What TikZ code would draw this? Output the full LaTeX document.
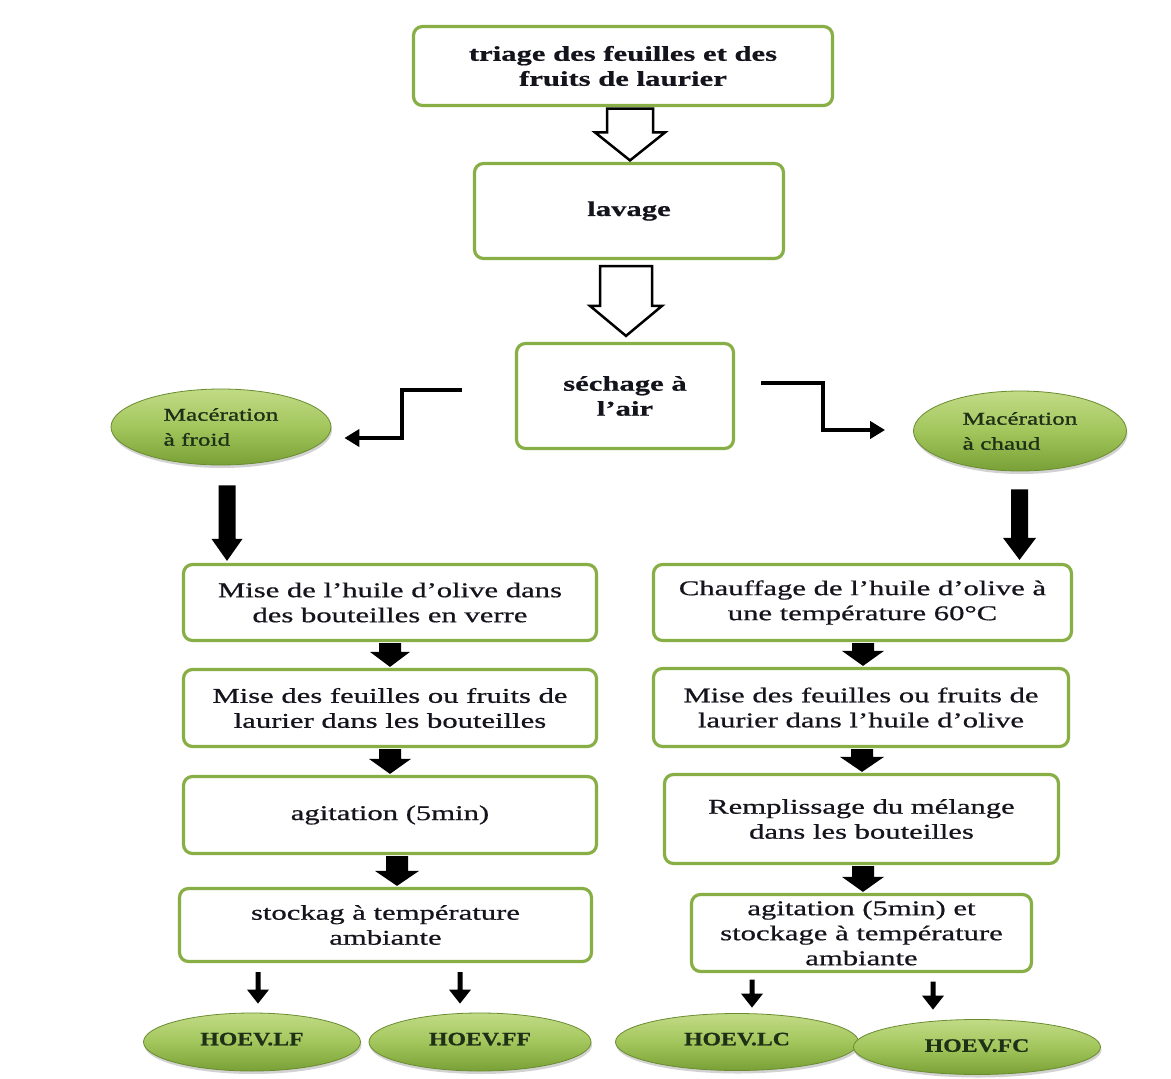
\documentclass[tikz,border=0pt]{standalone}
\usepackage{fontspec}
\setmainfont{Liberation Serif}[FakeStretch=1.46,FakeBold=0.7]
\newfontfamily\macfont{Liberation Serif}[FakeStretch=1.4,FakeBold=1.2]
\newfontfamily\hoevfont{Liberation Serif}[FakeStretch=1.25,FakeBold=0.8]
\usetikzlibrary{shapes.geometric,arrows.meta,calc,shadows}
\definecolor{boxgreen}{HTML}{88AE46}
\definecolor{elltop}{HTML}{C2DB86}
\definecolor{ellmid}{HTML}{A2C65C}
\definecolor{ellbot}{HTML}{79A036}
\definecolor{ellrim}{HTML}{6A8C30}
\definecolor{txt}{HTML}{14141C}
\definecolor{mactxt}{HTML}{1E3016}
% #1 style, #2 start, #3 tip, #4 shaft half width, #5 head half width, #6 head length
\newcommand\arrowpoly[6]{%
  \path[#1] ($(#2)+(-#4,0)$) -- ($(#3)+(-#4,-#6)$) -- ($(#3)+(-#5,-#6)$) -- (#3)
    -- ($(#3)+(#5,-#6)$) -- ($(#3)+(#4,-#6)$) -- ($(#2)+(#4,0)$) -- cycle;}
\begin{document}
\begin{tikzpicture}[x=1pt,y=-1pt,
  stepbox/.style={draw=boxgreen,line width=3.2pt,rounded corners=9pt,fill=white,text=txt,
    align=center,inner sep=0pt},
  boxfont/.style={font=\fontsize{21}{25}\selectfont},
  boldfont/.style={font=\fontsize{21}{25}\selectfont\bfseries},
  ell/.style={ellipse,draw=ellrim,line width=0.8pt,top color=elltop,bottom color=ellbot,
    middle color=ellmid,inner sep=0pt,text=mactxt,
    drop shadow={shadow xshift=1pt,shadow yshift=-3pt,opacity=0.35}},
  macfontstyle/.style={font=\macfont\fontsize{18}{25}\selectfont},
  hoevstyle/.style={font=\hoevfont\bfseries\fontsize{19}{22}\selectfont},
  hol/.style={draw=black,line width=2.5pt,fill=white,line join=miter},
  blk/.style={fill=black},
  elbowarrow/.style={line width=4pt,-{Triangle[length=15pt,width=17pt]}}]
\fill[white] (0,0) rectangle (1171,1079);
\useasboundingbox (0,0) rectangle (1171,1079);

% main column
\node[stepbox,boldfont,minimum width=419pt,minimum height=79pt] (b1) at (623,66)
  {triage des feuilles et des\\fruits de laurier};
\node[stepbox,boldfont,minimum width=309pt,minimum height=95pt] (b2) at (629,211) {lavage};
\node[stepbox,boldfont,minimum width=217pt,minimum height=105pt] (b3) at (625,396)
  {séchage à\\l'air};

% maceration ellipses
\node[ell,macfontstyle,align=left,minimum width=220pt,minimum height=76pt] (macf) at (221,427)
  {Macération\\à froid};
\node[ell,macfontstyle,align=left,minimum width=213pt,minimum height=80pt] (macc) at (1020,431)
  {Macération\\à chaud};

% left column
\node[stepbox,boxfont,minimum width=413pt,minimum height=76pt] (L1) at (390,602.5)
  {Mise de l'huile d'olive dans\\des bouteilles en verre};
\node[stepbox,boxfont,minimum width=413pt,minimum height=77pt] (L2) at (390,708)
  {Mise des feuilles ou fruits de\\laurier dans les bouteilles};
\node[stepbox,boxfont,minimum width=413pt,minimum height=77pt] (L3) at (390,815)
  {agitation (5min)};
\node[stepbox,boxfont,minimum width=412pt,minimum height=73pt] (L4) at (385.5,925)
  {stockag à température\\ambiante};

% right column
\node[stepbox,boxfont,minimum width=418pt,minimum height=76pt] (R1) at (862.5,602.5)
  {Chauffage de l'huile d'olive à\\une température 60°C};
\node[stepbox,boxfont,minimum width=415pt,minimum height=78pt] (R2) at (861,707.5)
  {Mise des feuilles ou fruits de\\laurier dans l'huile d'olive};
\node[stepbox,boxfont,minimum width=394pt,minimum height=89pt] (R3) at (861.5,819)
  {Remplissage du mélange\\dans les bouteilles};
\node[stepbox,boxfont,minimum width=340pt,minimum height=77pt] (R4) at (861.5,933)
  {agitation (5min) et\\stockage à température\\ambiante};

% products
\node[ell,hoevstyle,minimum width=217pt,minimum height=58pt] (lf) at (252,1042) {\raisebox{6pt}{HOEV.LF}};
\node[ell,hoevstyle,minimum width=222pt,minimum height=58pt] (ff) at (480,1042) {\raisebox{6pt}{HOEV.FF}};
\node[ell,hoevstyle,minimum width=243pt,minimum height=57pt] (lc) at (737,1042) {\raisebox{6pt}{HOEV.LC}};
\node[ell,hoevstyle,minimum width=247pt,minimum height=55pt] (fc) at (977,1047) {\raisebox{3pt}{HOEV.FC}};

% hollow arrows
\coordinate (h1s) at ($(b1.south)+(7,1.5)$);
\coordinate (h1t) at ($(b2.north)+(1,-1.5)$);
\arrowpoly{hol}{h1s}{h1t}{23}{35}{28}
\coordinate (h2s) at ($(b2.south)+(-3,6)$);
\coordinate (h2t) at ($(b3.north)+(1,-6)$);
\arrowpoly{hol}{h2s}{h2t}{26}{36}{30}

% elbow arrows
\coordinate (lel) at ($(b3.west)+(-53,-6)$);
\coordinate (lelt) at ($(macf.east)+(13,11)$);
\draw[elbowarrow] (lel) -- ++(-60,0) |- (lelt);
\coordinate (rel) at ($(b3.east)+(26,-13)$);
\coordinate (relt) at ($(macc.west)+(-28,-1)$);
\draw[elbowarrow] (rel) -- ++(62,0) |- (relt);

% big black arrows
\coordinate (bls) at ($(macf.south)+(6,20)$);
\coordinate (blt) at ($(L1.north)+(-163,-2)$);
\arrowpoly{blk}{bls}{blt}{8.5}{15.5}{22}
\coordinate (brs) at ($(macc.south)+(-0.5,18)$);
\coordinate (brt) at ($(R1.north)+(157,-3)$);
\arrowpoly{blk}{brs}{brt}{8.5}{16.5}{22}

% small arrows left
\coordinate (a1s) at ($(L1.south)+(0,1)$);
\coordinate (a1t) at ($(L2.north)+(0,-1)$);
\arrowpoly{blk}{a1s}{a1t}{11}{20}{15}
\coordinate (a2s) at ($(L2.south)+(0,1)$);
\coordinate (a2t) at ($(L3.north)+(0,-1)$);
\arrowpoly{blk}{a2s}{a2t}{11}{21}{15}
\coordinate (a3s) at ($(L3.south)+(7,1)$);
\coordinate (a3t) at ($(L4.north)+(11.5,-1)$);
\arrowpoly{blk}{a3s}{a3t}{11}{22}{15}

% small arrows right
\coordinate (c1s) at ($(R1.south)+(0.5,1)$);
\coordinate (c1t) at ($(R2.north)+(2,-1)$);
\arrowpoly{blk}{c1s}{c1t}{11}{21}{15}
\coordinate (c2s) at ($(R2.south)+(1,1)$);
\coordinate (c2t) at ($(R3.north)+(0.5,-1)$);
\arrowpoly{blk}{c2s}{c2t}{11}{22}{15}
\coordinate (c3s) at ($(R3.south)+(1.5,1)$);
\coordinate (c3t) at ($(R4.north)+(1.5,-1)$);
\arrowpoly{blk}{c3s}{c3t}{11}{21}{15}

% thin arrows to products
\coordinate (t1s) at ($(L4.south)+(-127.5,9)$);
\coordinate (t1t) at ($(lf.north)+(6,-9)$);
\arrowpoly{blk}{t1s}{t1t}{2.5}{11}{14}
\coordinate (t2s) at ($(L4.south)+(74.5,9)$);
\coordinate (t2t) at ($(ff.north)+(-20,-9)$);
\arrowpoly{blk}{t2s}{t2t}{2.5}{11}{14}
\coordinate (t3s) at ($(R4.south)+(-109.5,6.5)$);
\coordinate (t3t) at ($(lc.north)+(15,-5.5)$);
\arrowpoly{blk}{t3s}{t3t}{2.5}{11}{14}
\coordinate (t4s) at ($(R4.south)+(71.5,8.5)$);
\coordinate (t4t) at ($(fc.north)+(-44,-9.5)$);
\arrowpoly{blk}{t4s}{t4t}{2.5}{11}{14}
\end{tikzpicture}
\end{document}
